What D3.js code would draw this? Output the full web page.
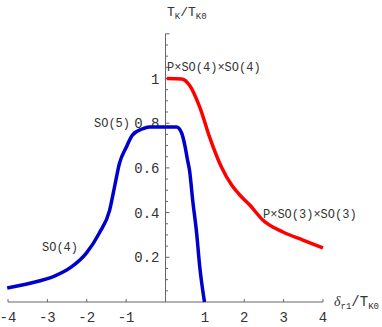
<!DOCTYPE html>
<html>
<head>
<meta charset="utf-8">
<script src="https://cdn.jsdelivr.net/npm/d3@7"></script>
<style>
  body { margin: 0; background: #fff; }
  text { font-family: "Liberation Mono", monospace; fill: #333; }
</style>
</head>
<body>
<script>
// data
const so5Delta = [-4.02, -3.21, -2.82, -2.39, -2.01, -1.68, -1.42, -1.3, -1.17, -0.99, -0.84, -0.59, -0.41, 0.28, 0.41, 0.5, 0.56, 0.61, 0.69, 0.79, 0.87, 0.99];
const so5T = [0.063, 0.094, 0.116, 0.157, 0.219, 0.309, 0.41, 0.51, 0.62, 0.695, 0.747, 0.774, 0.783, 0.783, 0.756, 0.693, 0.635, 0.59, 0.456, 0.309, 0.157, 0.0];
const so4Delta = [0.03, 0.41, 0.61, 0.87, 1.12, 1.42, 1.68, 1.88, 2.14, 2.47, 2.98, 3.49, 4.0];
const so4T = [1.0, 0.998, 0.97, 0.872, 0.738, 0.604, 0.523, 0.48, 0.434, 0.367, 0.313, 0.277, 0.242];
const xTicks = [-4, -3, -2, -1, 1, 2, 3, 4];
const yTicks = [0.2, 0.4, 0.6, 0.8, 1];

const width = 382, height = 327;
const svg = d3.select("body").append("svg").attr("width", width).attr("height", height);

const x = d3.scaleLinear().domain([-4, 4]).range([8, 323]);
const y = d3.scaleLinear().domain([0, 1.2]).range([302, 33.8]);

// axes
svg.append("line").attr("x1", x(-4)).attr("x2", x(4)).attr("y1", y(0)).attr("y2", y(0))
  .attr("stroke", "#666").attr("stroke-width", 1);
svg.append("line").attr("x1", x(0)).attr("x2", x(0)).attr("y1", y(0)).attr("y2", y(1.2))
  .attr("stroke", "#666").attr("stroke-width", 1);

svg.selectAll(".xt").data(xTicks).join("line")
  .attr("x1", d => x(d)).attr("x2", d => x(d))
  .attr("y1", y(0)).attr("y2", y(0) - 3)
  .attr("stroke", "#666");
svg.selectAll(".xl").data(xTicks).join("text")
  .attr("x", d => x(d)).attr("y", y(0) + 20)
  .attr("text-anchor", "middle").attr("font-size", 14)
  .text(d => d < 0 ? "-" + Math.abs(d) : d);

const yMinor = d3.range(1, 25).map(i => i * 0.05);
svg.selectAll(".yt").data(yMinor).join("line")
  .attr("x1", x(0)).attr("x2", d => x(0) + (Math.abs(d * 5 - Math.round(d * 5)) < 1e-6 ? 4 : 2.5))
  .attr("y1", d => y(d)).attr("y2", d => y(d))
  .attr("stroke", "#666");
svg.selectAll(".yl").data(yTicks).join("text")
  .attr("x", x(0) - 6).attr("y", d => y(d) + 5)
  .attr("text-anchor", "end").attr("font-size", 14)
  .text(d => d === 1 ? "1" : d3.format(".1f")(d));

// curves
const line = d3.line().x(d => x(d[0])).y(d => y(d[1])).curve(d3.curveMonotoneX);
svg.append("path").datum(d3.zip(so5Delta, so5T))
  .attr("d", line).attr("fill", "none").attr("stroke", "#0000cc")
  .attr("stroke-width", 3.5).attr("stroke-linejoin", "round");
svg.append("path").datum(d3.zip(so4Delta, so4T))
  .attr("d", line).attr("fill", "none").attr("stroke", "#ff0000")
  .attr("stroke-width", 3.5).attr("stroke-linejoin", "round");

// labels
svg.append("text").attr("x", 167).attr("y", 71).attr("font-size", 12).text("P×SO(4)×SO(4)");
svg.append("text").attr("x", 263).attr("y", 218).attr("font-size", 12).text("P×SO(3)×SO(3)");
svg.append("text").attr("x", 94).attr("y", 127).attr("font-size", 12).text("SO(5)");
svg.append("text").attr("x", 42).attr("y", 251).attr("font-size", 12).text("SO(4)");

const yt = svg.append("text").attr("x", 167).attr("y", 16).attr("font-size", 13);
yt.append("tspan").text("T");
yt.append("tspan").attr("font-size", 9).attr("dy", 3).text("K");
yt.append("tspan").attr("dy", -3).text("/T");
yt.append("tspan").attr("font-size", 9).attr("dy", 3).text("K0");

const xt = svg.append("text").attr("x", 334).attr("y", 306).attr("font-size", 14);
xt.append("tspan").attr("font-family", "Liberation Serif, serif").attr("font-style", "italic").text("δ");
xt.append("tspan").attr("font-size", 9).attr("dy", 3).text("r1");
xt.append("tspan").attr("dy", -3).text("/T");
xt.append("tspan").attr("font-size", 9).attr("dy", 3).text("K0");
</script>
</body>
</html>
